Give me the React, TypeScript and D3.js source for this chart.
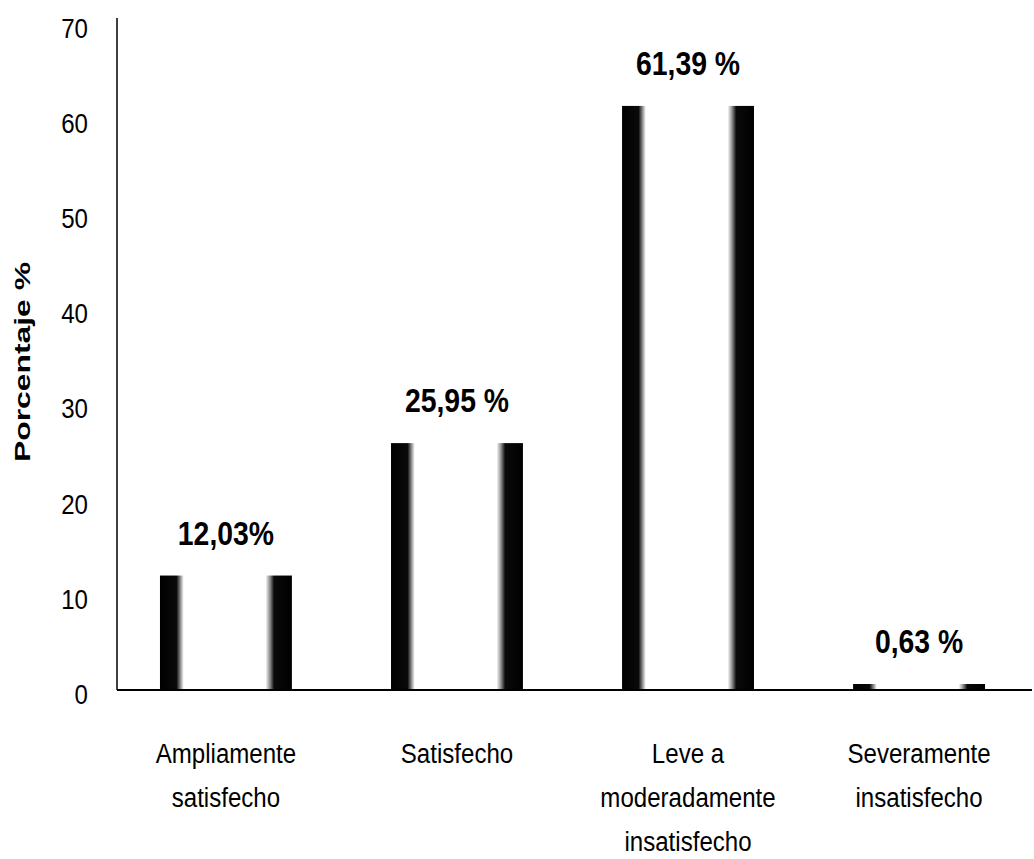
import React, { useRef, useEffect } from "react";
import * as d3 from "d3";

const categories = [
  "Ampliamente satisfecho",
  "Satisfecho",
  "Leve a moderadamente insatisfecho",
  "Severamente insatisfecho",
];
const categoryLines = [
  ["Ampliamente", "satisfecho"],
  ["Satisfecho"],
  ["Leve a", "moderadamente", "insatisfecho"],
  ["Severamente", "insatisfecho"],
];
const values = [12.03, 25.95, 61.39, 0.63];
const valueLabels = ["12,03%", "25,95 %", "61,39 %", "0,63 %"];
const yTicks = [0, 10, 20, 30, 40, 50, 60, 70];

// no condensed face installed, so Liberation Sans gets squeezed horizontally
const FONT = "'Liberation Sans', Arial, sans-serif";
const SQUEEZE = 0.86;

const App: React.FC = () => {
  const svgRef = useRef<SVGSVGElement | null>(null);

  useEffect(() => {
    if (!svgRef.current) return;
    const svg = d3.select(svgRef.current);
    svg.selectAll("*").remove();

    const width = 1034;
    const height = 859;
    svg.attr("width", width).attr("height", height);

    const x0 = 117;
    const y0 = 690;

    const xScale = d3
      .scaleBand<string>()
      .domain(categories)
      .range([x0, 1028])
      .paddingInner(0.429)
      .paddingOuter(0.186);

    const yScale = d3.scaleLinear().domain([0, 70]).range([y0, 24]);

    // cylinder-like shading on the bars
    const defs = svg.append("defs");
    defs
      .append("linearGradient")
      .attr("id", "barGrad")
      .attr("x1", "0%")
      .attr("x2", "100%")
      .attr("y1", "0%")
      .attr("y2", "0%")
      .selectAll("stop")
      .data([
        { offset: "0%", color: "#000" },
        { offset: "12.5%", color: "#0a0a0a" },
        { offset: "15%", color: "#777" },
        { offset: "18%", color: "#fff" },
        { offset: "80%", color: "#fff" },
        { offset: "83.5%", color: "#888" },
        { offset: "86.5%", color: "#0a0a0a" },
        { offset: "100%", color: "#000" },
      ])
      .join("stop")
      .attr("offset", (d) => d.offset)
      .attr("stop-color", (d) => d.color);

    const data = categories.map((c, i) => ({
      cat: c,
      value: values[i],
      label: valueLabels[i],
      lines: categoryLines[i],
    }));
    const cx = (cat: string) => (xScale(cat) || 0) + xScale.bandwidth() / 2;

    // bars
    svg
      .append("g")
      .selectAll("rect")
      .data(data)
      .join("rect")
      .attr("x", (d) => xScale(d.cat) || 0)
      .attr("y", (d) => yScale(d.value))
      .attr("width", xScale.bandwidth())
      .attr("height", (d) => y0 - yScale(d.value))
      .attr("fill", "url(#barGrad)");

    // value labels
    svg
      .append("g")
      .selectAll("text")
      .data(data)
      .join("text")
      .attr(
        "transform",
        (d) => `translate(${cx(d.cat)},${yScale(d.value) - 31}) scale(${SQUEEZE},1)`
      )
      .attr("text-anchor", "middle")
      .attr("font-family", FONT)
      .attr("font-weight", "bold")
      .attr("font-size", 33)
      .attr("fill", "#000")
      .text((d) => d.label);

    // axes lines
    svg
      .append("line")
      .attr("x1", x0)
      .attr("x2", x0)
      .attr("y1", 18)
      .attr("y2", y0)
      .attr("stroke", "#000")
      .attr("stroke-width", 1.5);
    svg
      .append("line")
      .attr("x1", x0)
      .attr("x2", 1032)
      .attr("y1", y0)
      .attr("y2", y0)
      .attr("stroke", "#000")
      .attr("stroke-width", 2);

    // y tick labels
    svg
      .append("g")
      .selectAll("text")
      .data(yTicks)
      .join("text")
      .attr("transform", (d) => `translate(88,${yScale(d) + 4}) scale(${SQUEEZE},1)`)
      .attr("dy", "0.35em")
      .attr("text-anchor", "end")
      .attr("font-family", FONT)
      .attr("font-size", 28)
      .attr("fill", "#000")
      .text((d) => String(d));

    // category labels
    const catG = svg
      .append("g")
      .selectAll("text")
      .data(data)
      .join("text")
      .attr("transform", (d) => `translate(${cx(d.cat)},0) scale(${SQUEEZE},1)`)
      .attr("text-anchor", "middle")
      .attr("font-family", FONT)
      .attr("font-size", 28)
      .attr("fill", "#000");
    catG
      .selectAll("tspan")
      .data((d) => d.lines.map((l, j) => ({ text: l, j })))
      .join("tspan")
      .attr("x", 0)
      .attr("y", (t) => 763 + t.j * 44)
      .text((t) => t.text);

    // y axis title
    svg
      .append("text")
      .attr("transform", "translate(30,362) rotate(-90)")
      .attr("text-anchor", "middle")
      .attr("font-family", FONT)
      .attr("font-weight", "bold")
      .attr("font-size", 22)
      .attr("textLength", 200)
      .attr("lengthAdjust", "spacingAndGlyphs")
      .attr("fill", "#000")
      .text("Porcentaje %");
  }, []);

  return (
    <div style={{ position: "absolute", left: 0, top: 0, background: "#fff" }}>
      <svg ref={svgRef} style={{ display: "block" }} />
    </div>
  );
};

export default App;
